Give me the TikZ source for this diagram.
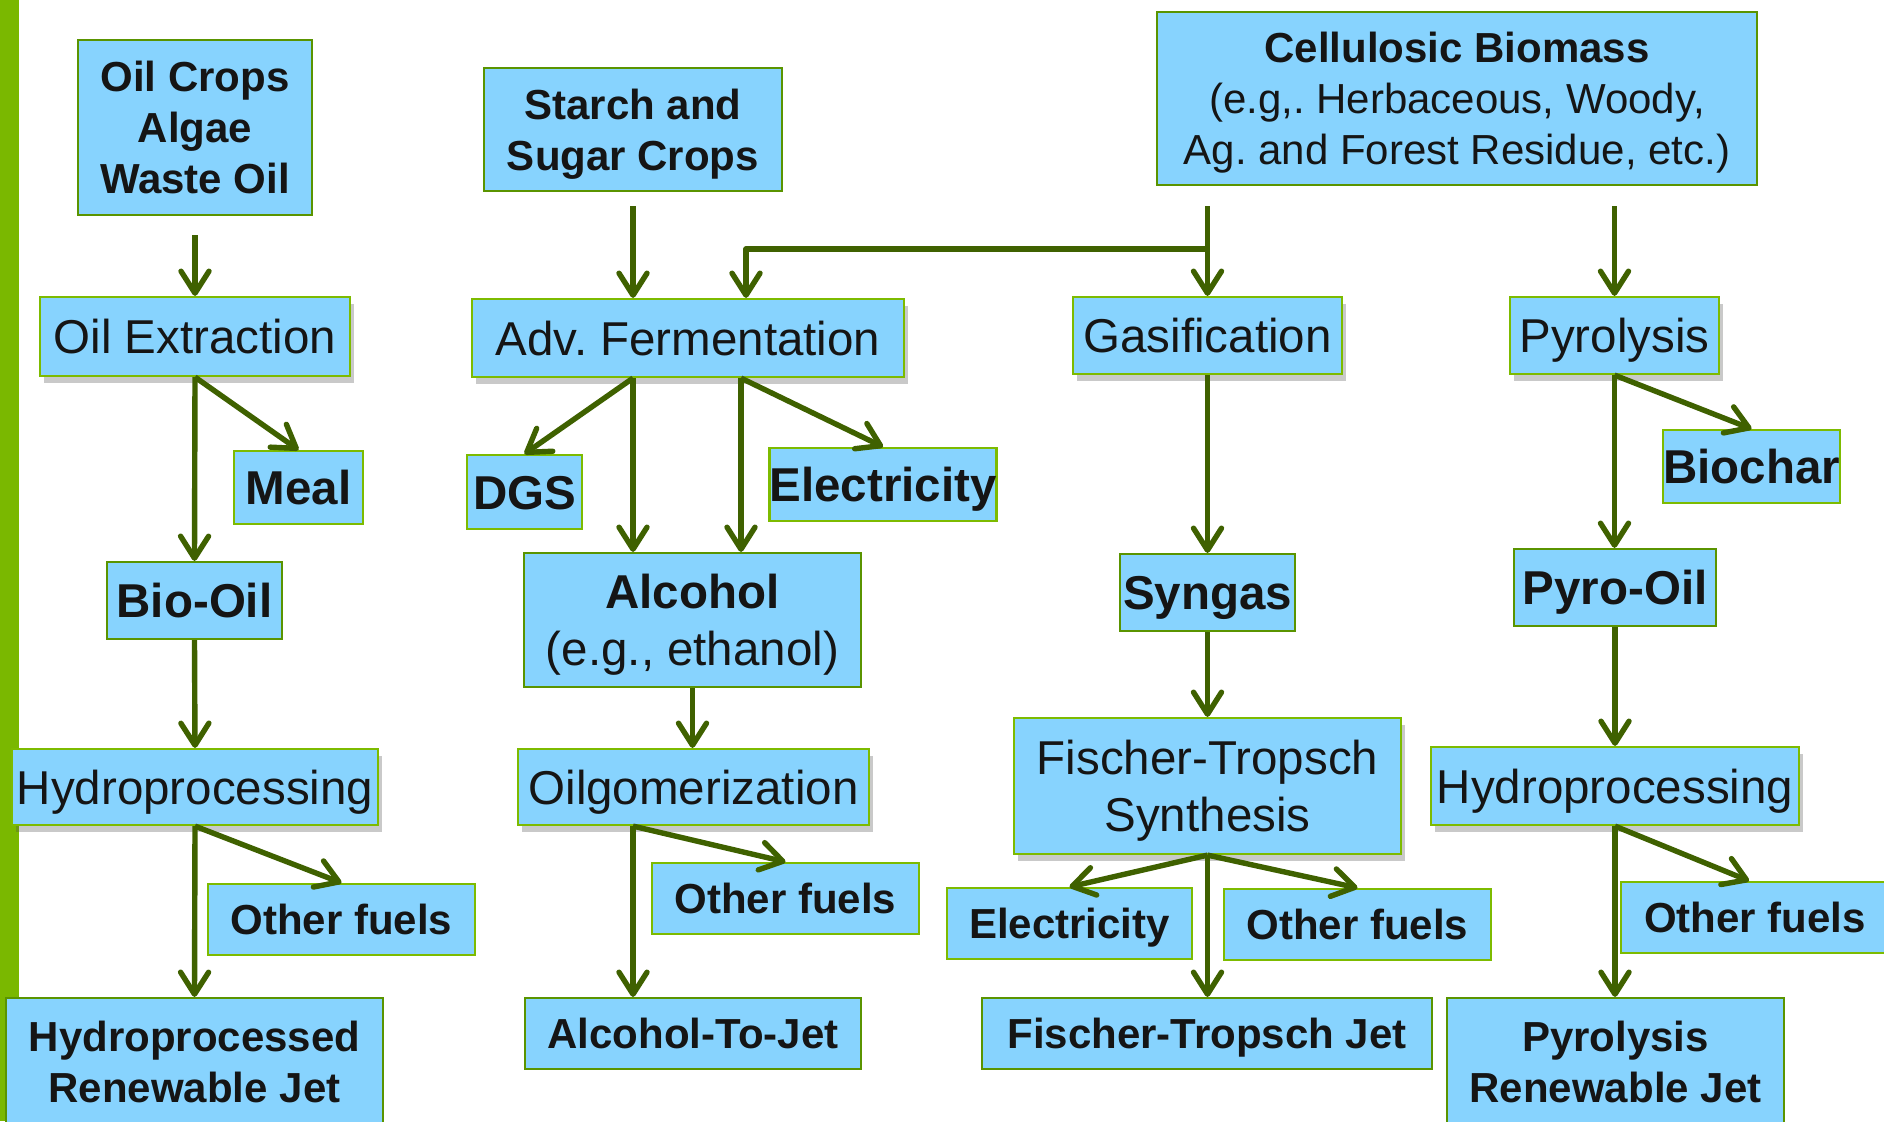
\documentclass[tikz,border=0pt]{standalone}
\usepackage{fontspec}
\setmainfont{Liberation Sans}
\usetikzlibrary{arrows.meta,shadows,calc}
\definecolor{boxfill}{HTML}{87D3FE}
\definecolor{bdark}{HTML}{5A9400}
\definecolor{blight}{HTML}{7DBB00}
\definecolor{arrg}{HTML}{3F6100}
\definecolor{barg}{HTML}{7AB800}
\definecolor{txt}{HTML}{151515}
\newcommand\fbig{\fontsize{23.75}{28.5}\selectfont}
\newcommand\fsml{\fontsize{21}{25.5}\selectfont}
\frenchspacing
\begin{document}
\frenchspacing
\begin{tikzpicture}[x=0.5pt,y=-0.5pt,
  box/.style={draw=blight, fill=boxfill, line width=1.1pt, inner sep=0pt, align=center, text=txt},
  dk/.style={draw=bdark},
  shd/.style={drop shadow={shadow xshift=2pt, shadow yshift=-3.5pt, opacity=0.3, fill=black!70}},
  big/.style={font=\fbig\frenchspacing},
  bigb/.style={font=\fbig\bfseries},
  smlb/.style={font=\fsml\bfseries},
  one/.style={text height=17pt, text depth=0pt},
  ones/.style={text height=15pt, text depth=0pt},
  multi/.style={text depth=0pt},
  arr/.style={draw=arrg, line width=2.7pt, line join=round,
    -{Straight Barb[length=11pt,width=14pt,round]}},
]
\useasboundingbox (0,0) rectangle (1884,1121);
\fill[barg] (0,0) rectangle (19,1121);

% sources
\node[box,dk,smlb,minimum width=117pt,minimum height=87.5pt] (crops) at (195,127.5) {Oil Crops\\Algae\\Waste Oil};
\node[box,dk,smlb,multi,minimum width=149pt,minimum height=61.5pt] (starch) at (633,129.5) {Starch and\\Sugar Crops};
\node[box,dk,font=\fsml\frenchspacing,multi,minimum width=300pt,minimum height=86.5pt] (cell) at (1457,98.5) {\textbf{Cellulosic Biomass}\\(e.g,. Herbaceous, Woody,\\Ag. and Forest Residue, etc.)};

% processes
\node[box,shd,big,one,minimum width=155pt,minimum height=39.5pt] (oilext) at (195,336.5) {Oil Extraction};
\node[box,shd,big,one,minimum width=216pt,minimum height=39pt] (advferm) at (688,338) {Adv. Fermentation};
\node[box,shd,big,one,minimum width=134.5pt,minimum height=38.5pt] (gasif) at (1207.5,335.5) {Gasification};
\node[box,shd,big,one,minimum width=104.5pt,minimum height=38.5pt] (pyrol) at (1614.5,335.5) {Pyrolysis};

% by-products row
\node[box,bigb,one,minimum width=64.5pt,minimum height=36.5pt] (meal) at (298.5,487.5) {Meal};
\node[box,bigb,one,minimum width=57.5pt,minimum height=37pt] (dgs) at (524.5,492) {DGS};
\node[box,bigb,one,minimum width=108pt,minimum height=36.5pt] (elec1) at (883,484.5) {Electricity};
\node[box,bigb,one,minimum width=87.5pt,minimum height=36.5pt] (biochar) at (1751.5,466.5) {Biochar};

% intermediates
\node[box,dk,bigb,one,minimum width=87.5pt,minimum height=38.5pt] (biooil) at (194.5,600.5) {Bio-Oil};
\node[box,dk,big,multi,minimum width=168.5pt,minimum height=67pt] (alcohol) at (692.5,620) {\textbf{Alcohol}\\(e.g., ethanol)};
\node[box,dk,bigb,one,minimum width=87.5pt,minimum height=38.5pt] (syngas) at (1207.5,592.5) {Syngas};
\node[box,dk,bigb,one,minimum width=101pt,minimum height=38.5pt] (pyrooil) at (1615,587.5) {Pyro-Oil};

% upgrading
\node[box,shd,big,one,minimum width=183pt,minimum height=38pt] (hydro1) at (195,787) {Hydroprocessing};
\node[box,shd,big,one,minimum width=175.5pt,minimum height=38pt] (oligo) at (693.5,787) {Oilgomerization};
\node[box,shd,big,multi,minimum width=193.5pt,minimum height=68pt] (ftsyn) at (1207.5,786) {Fischer-Tropsch\\Synthesis};
\node[box,shd,big,one,minimum width=184pt,minimum height=39pt] (hydro2) at (1615,786) {Hydroprocessing};

% co-products
\node[box,smlb,ones,minimum width=133.5pt,minimum height=35.5pt] (of1) at (341.5,919.5) {Other fuels};
\node[box,smlb,ones,minimum width=133.5pt,minimum height=35.5pt] (of2) at (785.5,898.5) {Other fuels};
\node[box,smlb,ones,minimum width=122.5pt,minimum height=35.5pt] (elec2) at (1069.5,923.5) {Electricity};
\node[box,smlb,ones,minimum width=133.5pt,minimum height=35.5pt] (of3) at (1357.5,924.5) {Other fuels};
\node[box,smlb,ones,minimum width=134pt,minimum height=35.5pt] (of4) at (1755,917.5) {Other fuels};

% jet fuels
\node[box,dk,smlb,minimum width=188.5pt,minimum height=64pt] (hrj) at (194.5,1062) {Hydroprocessed\\Renewable Jet};
\node[box,dk,smlb,ones,minimum width=168pt,minimum height=35.5pt] (atj) at (693,1033.5) {Alcohol-To-Jet};
\node[box,dk,smlb,ones,minimum width=225pt,minimum height=35.5pt] (ftjet) at (1207,1033.5) {Fischer-Tropsch Jet};
\node[box,dk,smlb,minimum width=168.5pt,minimum height=64pt] (prj) at (1615.5,1062) {Pyrolysis\\Renewable Jet};

% helper coordinates
\coordinate (xb) at (741,0);
\coordinate (cb) at (1206,249);
\coordinate (cl) at (746,249);

% connectors: oil column
\draw[arr] ([yshift=-9.5pt]crops.south) -- (oilext.north);
\draw[arr] (oilext.south) -- (meal.north);
\draw[arr] (oilext.south) -- (biooil.north);
\draw[arr] (biooil.south) -- (hydro1.north);
\draw[arr] (hydro1.south) -- (of1.north);
\draw[arr] (hydro1.south) -- (hrj.north);

% fermentation column
\draw[arr] ([yshift=-7pt]starch.south) -- (starch.south |- advferm.north);
\draw[arr] ([yshift=-10pt]cell.south -| gasif.north) -- (gasif.north);
\draw[arr] (cb) -- (cl) -- (cl |- advferm.north);
\draw[arr] (advferm.south -| starch.south) -- (dgs.north);
\draw[arr] (advferm.south -| starch.south) -- (starch.south |- alcohol.north);
\draw[arr] (advferm.south -| xb) -- (xb |- alcohol.north);
\draw[arr] (advferm.south -| xb) -- (elec1.north);
\draw[arr] (alcohol.south) -- (alcohol.south |- oligo.north);
\draw[arr] (oligo.south -| starch.south) -- (of2.north);
\draw[arr] (oligo.south -| starch.south) -- (starch.south |- atj.north);

% gasification column
\draw[arr] (gasif.south) -- (syngas.north);
\draw[arr] (syngas.south) -- (ftsyn.north);
\draw[arr] (ftsyn.south) -- (elec2.north);
\draw[arr] (ftsyn.south) -- (of3.north);
\draw[arr] (ftsyn.south) -- (ftsyn.south |- ftjet.north);

% pyrolysis column
\draw[arr] ([yshift=-10pt]cell.south -| pyrol.north) -- (pyrol.north);
\draw[arr] (pyrol.south) -- (biochar.north);
\draw[arr] (pyrol.south) -- (pyrol.south |- pyrooil.north);
\draw[arr] (pyrooil.south) -- (hydro2.north);
\draw[arr] (hydro2.south) -- ([xshift=-3pt]of4.north);
\draw[arr] (hydro2.south) -- (hydro2.south |- prj.north);
\end{tikzpicture}
\end{document}
